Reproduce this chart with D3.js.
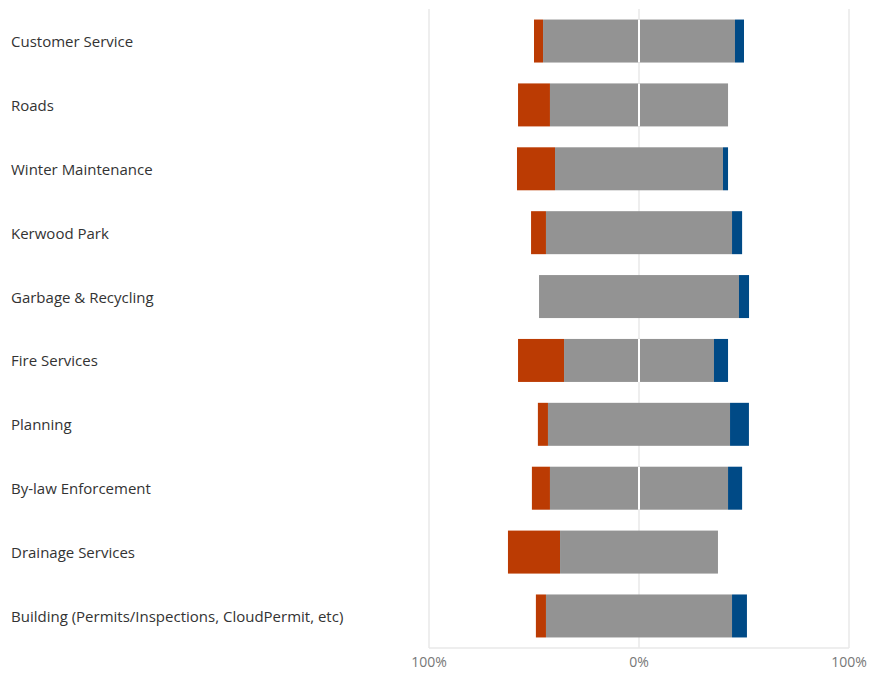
<!DOCTYPE html>
<html>
<head>
<meta charset="utf-8">
<script src="https://cdn.jsdelivr.net/npm/d3@7"></script>
<style>
  body { margin: 0; background: #fff; }
  svg { display: block; font-family: "Open Sans", sans-serif; }
</style>
</head>
<body>
<svg width="871" height="673"></svg>
<script>
// categories, top to bottom
const categories = [
    "Customer Service",
    "Roads",
    "Winter Maintenance",
    "Kerwood Park",
    "Garbage & Recycling",
    "Fire Services",
    "Planning",
    "By-law Enforcement",
    "Drainage Services",
    "Building (Permits/Inspections, CloudPermit, etc)"
];

// percent of responses
const negative = [4.3, 15.2, 18.1, 7.1, 0, 21.9, 4.8, 8.6, 24.8, 4.8];
const neutral = [91.4, 84.8, 80.0, 88.6, 95.2, 71.4, 86.7, 84.8, 75.2, 88.6];
const positive = [4.3, 0, 2.4, 4.8, 4.8, 6.7, 9.0, 6.7, 0, 7.1];

// rows where the neutral bar is drawn as two halves
const splitRows = ["Customer Service", "Roads", "Fire Services", "By-law Enforcement"];

const tickValues = [-100, 0, 100];
const tickLabels = ["100%", "0%", "100%"];

var svg = d3.select("svg"),
    width = +svg.attr("width"),
    height = +svg.attr("height");

var x = d3.scaleLinear().domain([-100, 100]).range([429, 849]);

var y = d3.scaleBand()
    .domain(categories)
    .range([9, 648])
    .paddingInner(0.327)
    .paddingOuter(0.165);

// gridlines
var grid = svg.append("g").attr("class", "grid");
grid.selectAll("line")
    .data(tickValues)
    .enter()
    .append("line")
    .attr("x1", d => x(d))
    .attr("x2", d => x(d))
    .attr("y1", 9)
    .attr("y2", 648)
    .attr("stroke", "#e9e9e9")
    .attr("stroke-width", 1.5);
grid.append("line")
    .attr("x1", x(-100))
    .attr("x2", x(100))
    .attr("y1", 648)
    .attr("y2", 648)
    .attr("stroke", "#e9e9e9")
    .attr("stroke-width", 1.5);

// build segments per row
var rows = categories.map((c, i) => {
    var half = neutral[i] / 2;
    return {
        name: c,
        segs: [
            { x0: -half - negative[i], x1: -half, color: "#BB3B03" },
            { x0: -half, x1: half, color: "#939393" },
            { x0: half, x1: half + positive[i], color: "#004A86" }
        ].filter(s => s.x1 - s.x0 > 0)
    };
});

var bars = svg.append("g").attr("class", "bars")
    .selectAll("g")
    .data(rows)
    .enter()
    .append("g")
    .attr("transform", d => "translate(0," + y(d.name) + ")");

bars.selectAll("rect")
    .data(d => d.segs)
    .enter()
    .append("rect")
    .attr("x", d => x(d.x0))
    .attr("width", d => x(d.x1) - x(d.x0))
    .attr("y", 0)
    .attr("height", y.bandwidth())
    .attr("fill", d => d.color);

// white divider in the split neutral bars
bars.filter(d => splitRows.includes(d.name))
    .append("line")
    .attr("x1", x(0))
    .attr("x2", x(0))
    .attr("y1", 0)
    .attr("y2", y.bandwidth())
    .attr("stroke", "#fff")
    .attr("stroke-width", 2);

// category labels
svg.append("g").attr("class", "labels")
    .selectAll("text")
    .data(categories)
    .enter()
    .append("text")
    .attr("x", 11)
    .attr("y", d => y(d) + y.bandwidth() / 2)
    .attr("dy", "0.4em")
    .attr("fill", "#333")
    .style("font-size", "15px")
    .text(d => d);

// x axis labels
svg.append("g").attr("class", "x-axis")
    .selectAll("text")
    .data(tickValues)
    .enter()
    .append("text")
    .attr("x", d => x(d))
    .attr("y", 662)
    .attr("dy", "0.35em")
    .attr("text-anchor", "middle")
    .attr("fill", "#777")
    .style("font-size", "14px")
    .text((d, i) => tickLabels[i]);
</script>
</body>
</html>
